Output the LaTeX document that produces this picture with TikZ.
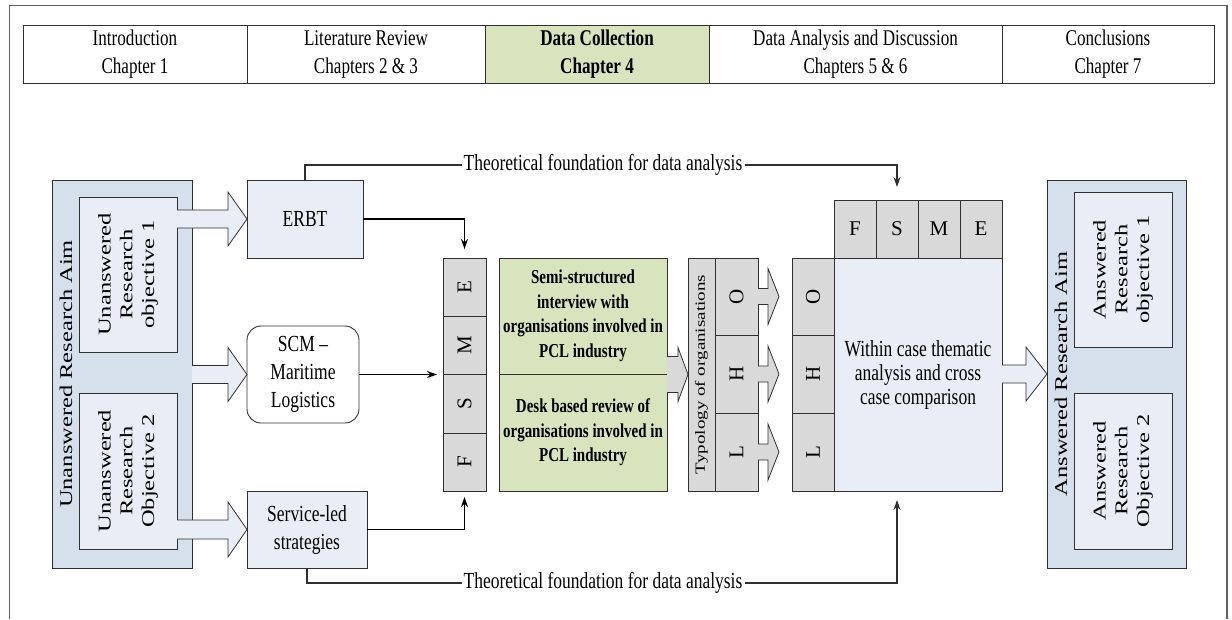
\documentclass[tikz,border=0pt]{standalone}
\usepackage{fontspec}
\setmainfont{Liberation Serif}[FakeStretch=0.76]
\newfontfamily\rotfont{Liberation Serif}[FakeStretch=1.36]
\newfontfamily\plainfont{Liberation Serif}
\usetikzlibrary{arrows.meta,calc}
\definecolor{panelblue}{HTML}{D6E0EC}
\definecolor{innerblue}{HTML}{E9EEF6}
\definecolor{cellgray}{HTML}{D9D9D9}
\definecolor{palegreen}{HTML}{D7E4BD}
\definecolor{edgecol}{HTML}{303030}
\definecolor{framegray}{HTML}{606060}
\newcommand\mainsz{\fontsize{23}{28}\selectfont}
\newcommand\bigsz{\fontsize{23}{24}\selectfont}
\newcommand\hdrsz{\fontsize{22.5}{28}\selectfont}
\newcommand\grnsz{\fontsize{19.7}{24.5}\selectfont\bfseries}
\newcommand\rotsz{\rotfont\fontsize{18}{21.7}\selectfont}
\newcommand\typsz{\rotfont\fontsize{14}{16}\selectfont}
\newcommand\letsz{\plainfont\fontsize{21}{24}\selectfont}
% block arrow: #1 fill style, #2 start point, #3 tip point, #4 shaft half, #5 head half, #6 head length
\newcommand\blkarrow[6]{%
  \fill[#1] let \p1=(#2), \p2=(#3) in
    (\x1,\y2+#4) -- (\x2-#6,\y2+#4) -- (\x2-#6,\y2+#5) -- (\x2,\y2)
    -- (\x2-#6,\y2-#5) -- (\x2-#6,\y2-#4) -- (\x1,\y2-#4) -- cycle;
  \draw[edgecol, line width=0.8pt, line join=miter] let \p1=(#2), \p2=(#3) in
    (\x1,\y2+#4) -- (\x2-#6,\y2+#4) -- (\x2-#6,\y2+#5) -- (\x2,\y2)
    -- (\x2-#6,\y2-#5) -- (\x2-#6,\y2-#4) -- (\x1,\y2-#4);
}
\tikzset{
  box/.style={draw=edgecol, line width=0.9pt, inner sep=0pt, outer sep=0pt, align=center, font=\mainsz},
  hdr/.style={box, fill=white, minimum height=58, font=\hdrsz},
  cell/.style={box, fill=cellgray, font=\letsz},
  grn/.style={box, fill=palegreen, minimum width=168, font=\grnsz},
  rotlab/.style={rotate=90, align=center, inner sep=0pt, font=\rotsz},
  conn/.style={line width=1.6pt, draw=black, -{Stealth[length=10pt,width=7pt]}},
  thline/.style={line width=1.3pt, draw=edgecol},
  tlabel/.style={inner sep=2pt, font=\mainsz},
}
\begin{document}
\begin{tikzpicture}[x=1pt,y=-1pt]
\useasboundingbox (0,0) rectangle (1232,619);
% outer frame
\draw[framegray, line width=1.2pt] (9.5,619) -- (9.5,5.5) -- (1227,5.5) -- (1227,619);
% header
\node[hdr, minimum width=224] (h1) at (135,54) {Introduction\\Chapter 1};
\node[hdr, minimum width=238] (h2) at (366,54) {Literature Review\\Chapters 2 \& 3};
\node[hdr, minimum width=224, fill=palegreen, font=\hdrsz\bfseries] (h3) at (597,54) {Data Collection\\Chapter 4};
\node[hdr, minimum width=293] (h4) at (855.5,54) {Data Analysis and Discussion\\Chapters 5 \& 6};
\node[hdr, minimum width=212] (h5) at (1108,54) {Conclusions\\Chapter 7};
% left panel
\node[box, fill=panelblue, minimum width=140, minimum height=388] (panelL) at (122,374) {};
\node[box, fill=innerblue, minimum width=98, minimum height=155] (obj1L) at (128,274.5) {};
\node[box, fill=innerblue, minimum width=98, minimum height=156] (obj2L) at (128,471) {};
\node[rotlab] (aimL) at (66,374) {Unanswered Research Aim};
\node[rotlab] (o1Ltxt) at (obj1L) {Unanswered\\Research\\objective 1};
\node[rotlab] (o2Ltxt) at (obj2L) {Unanswered\\Research\\Objective 2};
% literature boxes
\node[box, fill=innerblue, minimum width=116, minimum height=78] (erbt) at (305,219) {ERBT};
\node[box, fill=white, rounded corners=14pt, minimum width=112, minimum height=97] (scm) at (303,374.5) {SCM --\\Maritime\\Logistics};
\node[box, fill=innerblue, minimum width=120, minimum height=77] (svc) at (307,529.5) {Service-led\\strategies};
\blkarrow{fill=innerblue}{obj1L.east}{erbt.west}{9pt}{27pt}{19pt}
\blkarrow{fill=innerblue}{panelL.east}{scm.west}{9pt}{27pt}{19pt}
\blkarrow{fill=innerblue}{obj2L.east}{svc.west}{9.5pt}{27.5pt}{19pt}
% FSME column
\node[cell, minimum width=43, minimum height=58] (cE) at (464.5,287) {\rotatebox{90}{E}};
\node[cell, minimum width=43, minimum height=58] (cM) at (464.5,345) {\rotatebox{90}{M}};
\node[cell, minimum width=43, minimum height=59] (cS) at (464.5,403.5) {\rotatebox{90}{S}};
\node[cell, minimum width=43, minimum height=58] (cF) at (464.5,462) {\rotatebox{90}{F}};
% green boxes
\node[grn, minimum height=116] (green1) at (583,316) {Semi-structured\\interview with\\organisations involved in\\PCL industry};
\node[grn, minimum height=117] (green2) at (583,432.5) {Desk based review of\\organisations involved in\\PCL industry};
% typology column
\node[box, fill=cellgray, minimum width=27, minimum height=233] (typ) at (701.5,374.5) {};
\node[rotlab, font=\typsz] (typtxt) at (typ) {Typology of organisations};
\node[cell, minimum width=43, minimum height=77] (tO) at (736.5,296.5) {\rotatebox{90}{O}};
\node[cell, minimum width=43, minimum height=78] (tH) at (736.5,374) {\rotatebox{90}{H}};
\node[cell, minimum width=43, minimum height=78] (tL) at (736.5,452) {\rotatebox{90}{L}};
\blkarrow{fill=cellgray}{green1.south east}{typ.west}{18pt}{27pt}{10pt}
\blkarrow{fill=cellgray}{tO.east}{$(tO.east)+(21,0)$}{8pt}{28pt}{11pt}
\blkarrow{fill=cellgray}{tH.east}{$(tH.east)+(21,0)$}{8pt}{28pt}{11pt}
\blkarrow{fill=cellgray}{tL.east}{$(tL.east)+(21,0)$}{8pt}{28pt}{11pt}
% analysis block
\node[cell, minimum width=42, minimum height=77] (rO) at (813,296.5) {\rotatebox{90}{O}};
\node[cell, minimum width=42, minimum height=78] (rH) at (813,374) {\rotatebox{90}{H}};
\node[cell, minimum width=42, minimum height=78] (rL) at (813,452) {\rotatebox{90}{L}};
\node[box, fill=innerblue, minimum width=168, minimum height=233, font=\bigsz] (big) at (918,374.5) {Within case thematic\\analysis and cross\\case comparison};
\node[cell, minimum width=42, minimum height=58] (tF) at (855,229) {F};
\node[cell, minimum width=42, minimum height=58] (tS) at (897,229) {S};
\node[cell, minimum width=42, minimum height=58] (tM) at (939,229) {M};
\node[cell, minimum width=42, minimum height=58] (tE) at (981,229) {E};
% right panel
\node[box, fill=panelblue, minimum width=139, minimum height=388] (panelR) at (1116.5,374) {};
\node[box, fill=innerblue, minimum width=98, minimum height=155] (obj1R) at (1123,269.5) {};
\node[box, fill=innerblue, minimum width=98, minimum height=156] (obj2R) at (1123,471) {};
\node[rotlab] (aimR) at (1061,374) {Answered Research Aim};
\node[rotlab] (o1Rtxt) at (obj1R) {Answered\\Research\\objective 1};
\node[rotlab] (o2Rtxt) at (obj2R) {Answered\\Research\\Objective 2};
\blkarrow{fill=innerblue}{big.east}{panelR.west}{9pt}{27pt}{21pt}
% connectors
\draw[conn, shorten >=9pt] (erbt.east) -| (cE.north);
\draw[conn, shorten >=6pt] (scm.east) -- (scm.east -| cS.west);
\draw[conn, shorten >=6pt] (svc.east) -| (cF.south);
\node[tlabel] (th1) at (603,165) {Theoretical foundation for data analysis};
\node[tlabel] (th2) at (603,583) {Theoretical foundation for data analysis};
\draw[thline] (erbt.north) |- (th1.west);
\draw[thline, -{Stealth[length=10pt,width=7pt]}, shorten >=13pt] (th1.east) -| (tS.north);
\draw[thline] (svc.south) |- (th2.west);
\draw[thline, -{Stealth[length=10pt,width=7pt]}, shorten >=9pt] (th2.east) -| (big.south -| tS.south);
\end{tikzpicture}
\end{document}
